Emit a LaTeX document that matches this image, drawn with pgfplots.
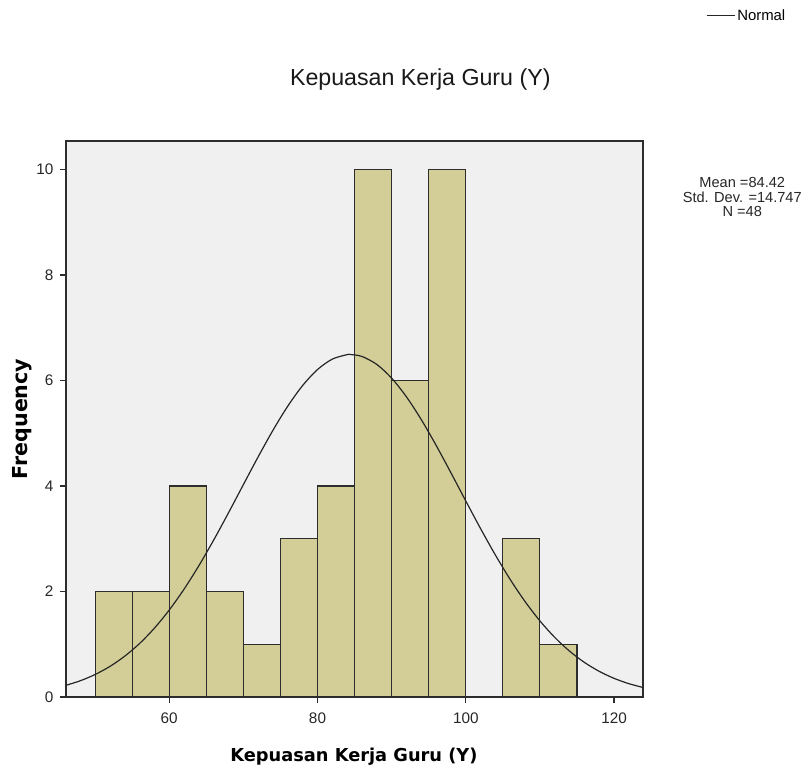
\documentclass[border=0pt]{standalone}
\usepackage{pgfplots}
\pgfplotsset{compat=1.18}
\usepackage{fontspec}
\setmainfont{Liberation Sans}
\newfontfamily\sfw{Liberation Sans}
\newfontfamily\dvb{DejaVu Sans}
\definecolor{barfill}{RGB}{211,206,151}
\definecolor{plotbg}{RGB}{240,240,240}
\definecolor{axline}{RGB}{45,45,45}
\begin{document}
\begin{tikzpicture}[x=1pt,y=1pt]
\useasboundingbox (0,0) rectangle (808,774);
\begin{axis}[
  at={(66pt,77pt)}, anchor=south west,
  scale only axis, width=577pt, height=556pt,
  xmin=46.08, xmax=123.9, ymin=0, ymax=10.54,
  clip mode=individual,
  axis background/.style={fill=plotbg},
  axis line style={axline, line width=1.3pt},
  xtick={60,80,100,120}, ytick={0,2,4,6,8,10},
  xtick pos=bottom, ytick pos=left,
  tick align=outside, major tick length=6pt,
  tick style={axline, line width=1.2pt},
  /pgf/number format/assume math mode=true,
  tick label style={font=\sfw\fontsize{15.3}{16}\selectfont, text=black!85},
  xticklabel style={yshift=-6pt},
  yticklabel style={xshift=-3pt},
  xlabel={Kepuasan Kerja Guru (Y)},
  xlabel style={font=\dvb\bfseries\fontsize{17.8}{20}\selectfont, at={(axis description cs:0.499,-0.108)}, anchor=center},
  ylabel={Frequency},
  ylabel style={font=\dvb\bfseries\fontsize{20.6}{22}\selectfont, at={(axis description cs:-0.0763,0.5)}, anchor=center},
  legend style={at={(axis description cs:1.109,1.225)}, anchor=west, draw=none, fill=none,
    font=\sfw\fontsize{14.9}{16}\selectfont, inner sep=0pt},
  legend image code/.code={\draw[#1] (0pt,0pt) -- (28pt,0pt);},
]
\addplot[ybar, bar width=5, bar shift=0pt, fill=barfill, draw=axline, line width=1.1pt, forget plot]
coordinates {(52.5,2) (57.5,2) (62.5,4) (67.5,2) (72.5,1) (77.5,3) (82.5,4) (87.5,10) (92.5,6) (97.5,10) (107.5,3) (112.5,1)};
\addplot[black!85, line width=1.2pt, smooth] coordinates {
(46,0.2181) (48,0.3076) (50,0.4260) (52,0.5793) (54,0.7736) (56,1.0136) (58,1.3043) (60,1.6481)
(62,2.0441) (64,2.4891) (66,2.9759) (68,3.4930) (70,4.0254) (72,4.5538) (74,5.0583) (76,5.5160)
(78,5.9055) (80,6.2075) (82,6.4057) (84,6.4900) (84.42,6.4926) (86,6.4554) (88,6.3041) (90,6.0441)
(92,5.6891) (94,5.2575) (96,4.7701) (98,4.2490) (100,3.7157) (102,3.1903) (104,2.6893) (106,2.2255)
(108,1.8080) (110,1.4423) (112,1.1295) (114,0.8686) (116,0.6556) (118,0.4859) (120,0.3535)
(122,0.2526) (124,0.1771)};
\addlegendentry{Normal}
\node[font=\sfw\fontsize{23.2}{25}\selectfont, text=black!90] at (axis description cs:0.614,1.110) {Kepuasan Kerja Guru (Y)};
\node[align=center, font=\sfw\fontsize{14.6}{14.5}\selectfont, text=black!85] at (axis description cs:1.172,0.899) {Mean =84.42\\Std. Dev. =14.747\\N =48};
\end{axis}
\end{tikzpicture}
\end{document}
